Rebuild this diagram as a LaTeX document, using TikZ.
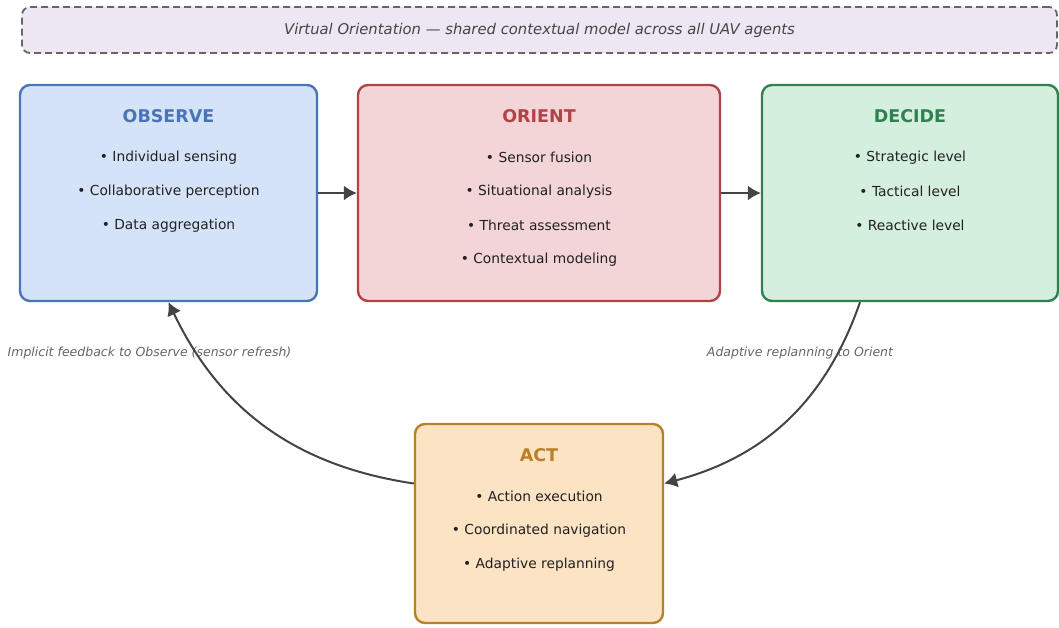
\documentclass[tikz,border=0pt]{standalone}
\usepackage{fontspec}
\setmainfont{DejaVu Sans}
\usetikzlibrary{arrows.meta}

\definecolor{obsfill}{HTML}{D5E3F8}
\definecolor{obsline}{HTML}{4A74B8}
\definecolor{orifill}{HTML}{F3D5D7}
\definecolor{oriline}{HTML}{B04346}
\definecolor{decfill}{HTML}{D5EFDF}
\definecolor{decline}{HTML}{2F8150}
\definecolor{actfill}{HTML}{FBE3C3}
\definecolor{actline}{HTML}{B98029}
\definecolor{bannerfill}{HTML}{EDE6F3}
\definecolor{arrowgray}{HTML}{444444}

\tikzset{
  phase/.style={draw, line width=2.4pt, rounded corners=10pt, minimum height=216pt},
  title/.style={font=\fontsize{17.5}{20}\selectfont\bfseries},
  item/.style={font=\fontsize{13.8}{16}\selectfont, text=black!87},
  flow/.style={draw=arrowgray, line width=2pt, -{Latex[length=13pt,width=15pt]}},
  note/.style={font=\fontsize{12.5}{15}\selectfont\itshape, text=black!60},
  banner/.style={draw=black!60, line width=1.8pt, dash pattern=on 7pt off 4pt, rounded corners=8pt,
    fill=bannerfill, font=\fontsize{14.8}{17}\selectfont\itshape, text=black!73}
}

\begin{document}
\begin{tikzpicture}[x=1pt,y=-1pt]
\useasboundingbox (0,0) rectangle (1059,628);

% Shared model
\node[banner, minimum width=1035pt, minimum height=46pt] (shared) at (539.5,30)
  {Virtual Orientation — shared contextual model across all UAV agents};

% Phases
\node[phase, draw=obsline, fill=obsfill, minimum width=297pt] (observe) at (168.5,193) {};
\node[phase, draw=oriline, fill=orifill, minimum width=362pt] (orient) at (539,193) {};
\node[phase, draw=decline, fill=decfill, minimum width=296pt] (decide) at (910,193) {};
\node[phase, draw=actline, fill=actfill, minimum width=248pt, minimum height=199pt] (act) at (539,523.5) {};

% Titles
\node[title, text=obsline] (observe title) at ([yshift=-32pt]observe.north) {OBSERVE};
\node[title, text=oriline] (orient title) at ([yshift=-32pt]orient.north) {ORIENT};
\node[title, text=decline] (decide title) at ([yshift=-32pt]decide.north) {DECIDE};
\node[title, text=actline] (act title) at ([yshift=-32pt]act.north) {ACT};

% Items
\foreach \txt [count=\i] in {Individual sensing, Collaborative perception, Data aggregation}
  \node[item] (observe item \i) at ([yshift={-40pt-34pt*\i}]observe.north) {\textbullet\ \txt};
\foreach \txt [count=\i] in {Sensor fusion, Situational analysis, Threat assessment, Contextual modeling}
  \node[item] (orient item \i) at ([yshift={-40pt-34pt*\i}]orient.north) {\textbullet\ \txt};
\foreach \txt [count=\i] in {Strategic level, Tactical level, Reactive level}
  \node[item] (decide item \i) at ([yshift={-40pt-34pt*\i}]decide.north) {\textbullet\ \txt};
\foreach \txt [count=\i] in {Action execution, Coordinated navigation, Adaptive replanning}
  \node[item] (act item \i) at ([yshift={-40pt-34pt*\i}]act.north) {\textbullet\ \txt};

% Notes
\node[note] (feedback note) at (149.5,353.5) {Implicit feedback to Observe (sensor refresh)};
\node[note] (replan note) at (800,353.5) {Adaptive replanning to Orient};

% Loop
\coordinate (decide out) at ([xshift=-50pt]decide.south);
\coordinate (act in) at ([yshift=40pt]act.east);
\coordinate (act out) at ([yshift=40pt]act.west);
\draw[flow] (observe) -- (orient);
\draw[flow] (orient) -- (decide);
\draw[flow] (decide out) to[bend left=28] (act in);
\draw[flow] (act out) to[bend left=28] (observe.south);
\end{tikzpicture}
\end{document}
